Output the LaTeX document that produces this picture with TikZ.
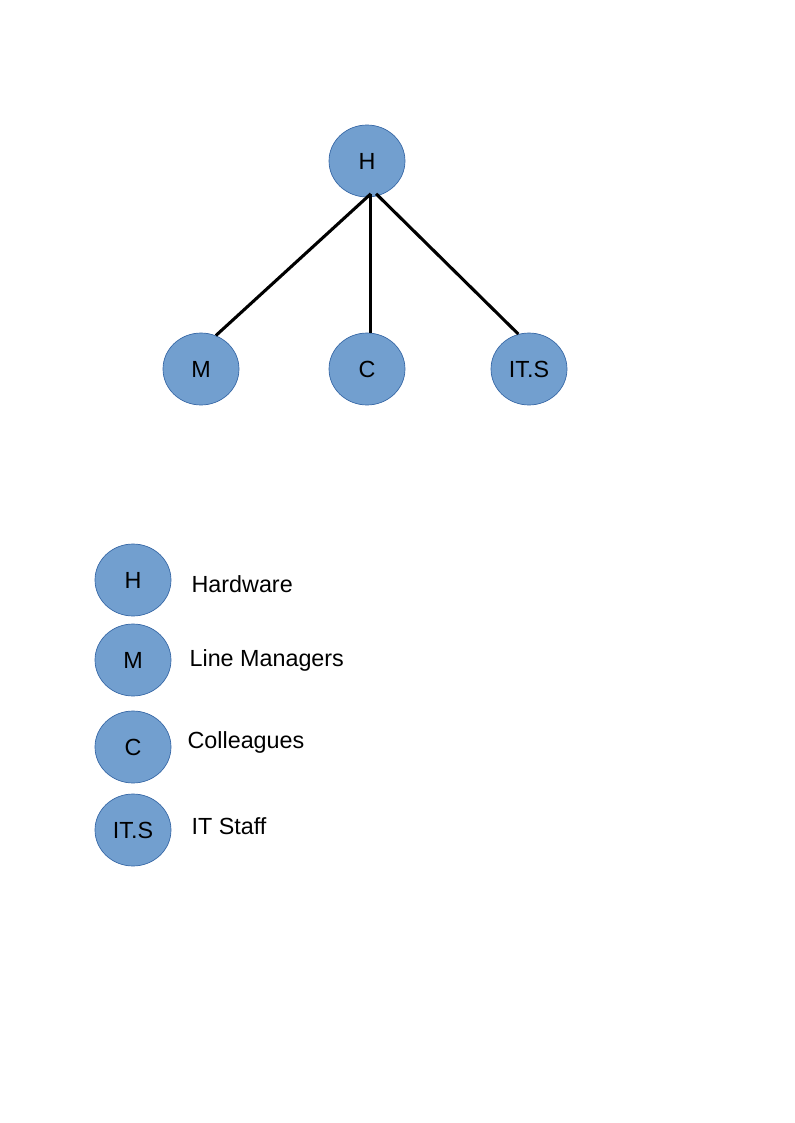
\documentclass[tikz,border=0pt]{standalone}
\usepackage{fontspec}
\setmainfont{Liberation Sans}
\usetikzlibrary{
    arrows.meta,
    positioning,
    shapes.geometric
}
\definecolor{nodeblue}{HTML}{729FCF}
\definecolor{nodeedge}{HTML}{3465A4}

\begin{document}
\begin{tikzpicture}[
    x=0.75pt, y=-0.75pt,
    node distance=15pt,
    person/.style={ellipse, draw=nodeedge, line width=0.5pt, fill=nodeblue, minimum width=57pt, minimum height=54pt, inner sep=0pt, font=\fontsize{17.5}{20}\selectfont},
    link/.style={line width=2.3pt, black},
    keytext/.style={anchor=west, inner sep=0pt, font=\fontsize{17.5}{20}\selectfont}
]
\useasboundingbox (0,0) rectangle (794,1123);

\node[person] (hw) at (367,161) {H};
\node[person] (mgr) at (201,369) {M};
\node[person] (col) at (367,369) {C};
\node[person] (its) at (529,369) {IT.S};

\coordinate (hub) at ([yshift=2.5pt]hw.-84);
\draw[link] (hub) -- (mgr.66);
\draw[link] (hub) -- (hub |- col.north);
\draw[link] ([xshift=4pt]hub) -- (its.107);

% Key
\node[person] (keyH) at (133,580) {H};
\node[person] (keyM) at (133,660) {M};
\node[person] (keyC) at (133,747) {C};
\node[person] (keyS) at (133,830) {IT.S};

\node[keytext, right=15pt of keyH, yshift=-3pt] (lblH) {Hardware};
\node[keytext, right=13.5pt of keyM] (lblM) {Line Managers};
\node[keytext, right=12pt of keyC, yshift=3.5pt] (lblC) {Colleagues};
\node[keytext, right=15pt of keyS, yshift=3pt] (lblS) {IT Staff};
\end{tikzpicture}
\end{document}
